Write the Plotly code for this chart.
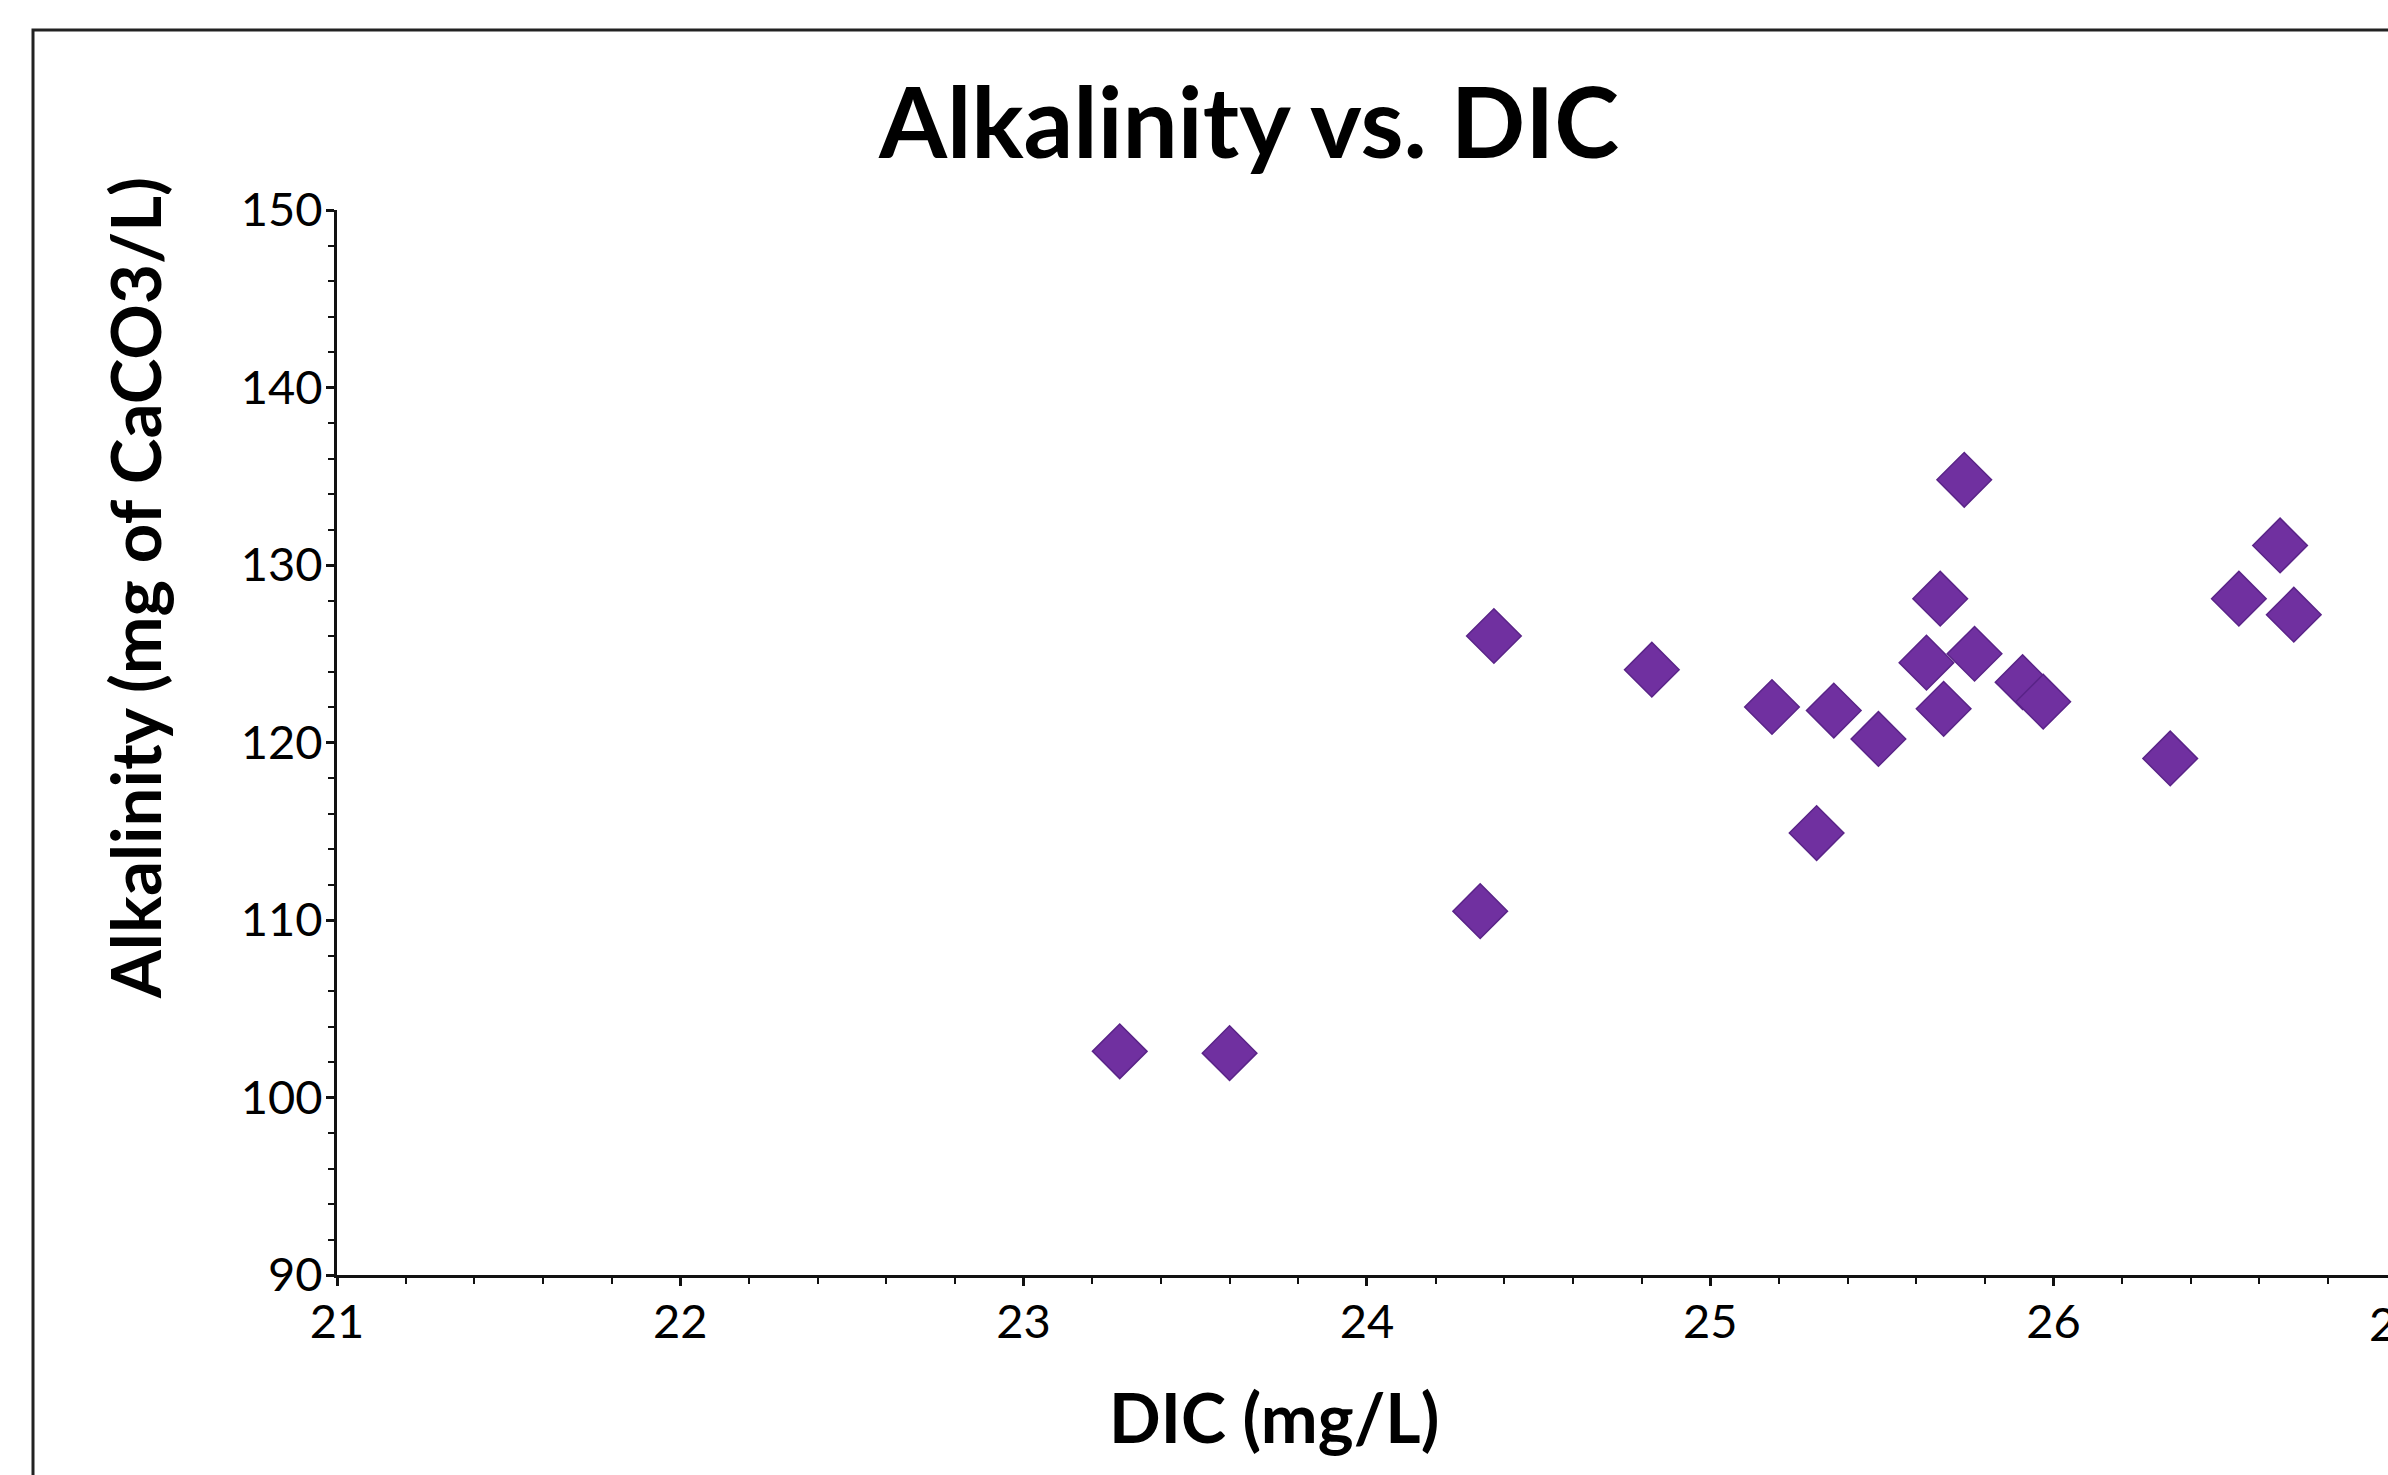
import plotly.graph_objects as go

# ---- data ----
dic_mg_l = [23.28, 23.60, 24.33, 24.37, 24.83, 25.18, 25.31, 25.36, 25.49, 25.63,
            25.67, 25.68, 25.74, 25.77, 25.91, 25.97, 26.34, 26.54, 26.66, 26.70]
alkalinity = [102.6, 102.5, 110.5, 126.0, 124.1, 122.0, 114.9, 121.8, 120.2, 124.5,
              128.1, 121.9, 134.8, 125.0, 123.4, 122.3, 119.1, 128.1, 131.1, 127.2]

x_tick_vals = [21, 22, 23, 24, 25, 26, 27]
y_tick_vals = [90, 100, 110, 120, 130, 140, 150]

title_text = "Alkalinity vs. DIC"
x_title = "DIC (mg/L)"
y_title = "Alkalinity (mg of CaCO3/L)"

# ---- layout geometry (pixels) ----
W, H = 2388, 1475
L, T, B = 337, 210, 1475 - 1275
R = 0
PW = W - L - R
PH = H - T - B
px_per_unit = 343.3
x_max = 21 + PW / px_per_unit


def px_x(p):
    return (p - L) / PW


def px_y(p):
    return (H - B - p) / PH


FONT = "Lato, 'Open Sans', sans-serif"
PURPLE = "#7030A0"

fig = go.Figure()
fig.add_trace(go.Scatter(
    x=dic_mg_l, y=alkalinity, mode="markers",
    marker=dict(symbol="diamond", size=42, color=PURPLE,
                line=dict(color="#5A2488", width=1.5)),
    showlegend=False, cliponaxis=False,
))

axis_common = dict(
    showgrid=False, zeroline=False, showline=True, linecolor="#111", linewidth=3,
    ticks="outside", ticklen=8, tickwidth=3, tickcolor="#111",
    tickfont=dict(family=FONT, size=47, color="#000"),
    minor=dict(ticks="outside", ticklen=6, tickwidth=2, tickcolor="#111"),
)

fig.update_xaxes(range=[21, x_max], tickvals=x_tick_vals, ticklabelstandoff=-4,
                 minor_dtick=0.2, **axis_common)
fig.update_yaxes(range=[90, 150], tickvals=y_tick_vals, ticklabelstandoff=-6,
                 minor_dtick=2, **axis_common)

fig.update_layout(
    width=W, height=H,
    margin=dict(l=L, r=R, t=T, b=B, pad=0),
    paper_bgcolor="white", plot_bgcolor="white",
    title=dict(text=title_text, x=px_x(1249), xref="paper", xanchor="center",
               y=1 - 124 / H, yref="container", yanchor="middle",
               font=dict(family=FONT, size=98, color="#000", weight="bold")),
    annotations=[
        dict(text=x_title, xref="paper", yref="paper", x=px_x(1274), y=px_y(1416),
             xanchor="center", yanchor="middle", showarrow=False,
             font=dict(family=FONT, size=68, color="#000", weight="bold")),
        dict(text=y_title, xref="paper", yref="paper", x=px_x(134), y=px_y(588),
             xanchor="center", yanchor="middle", showarrow=False, textangle=-90,
             font=dict(family=FONT, size=69, color="#000", weight="bold")),
        dict(text="27", xref="paper", yref="paper", x=px_x(2396.5), y=px_y(1275 + 18),
             xanchor="center", yanchor="top", showarrow=False,
             font=dict(family=FONT, size=47, color="#000")),
    ],
    shapes=[dict(type="rect", xref="paper", yref="paper",
                 x0=px_x(33), x1=px_x(2500), y0=px_y(1600), y1=px_y(30),
                 line=dict(color="#222", width=3), fillcolor="rgba(0,0,0,0)",
                 layer="below")],
)

fig.write_html("out.html")
